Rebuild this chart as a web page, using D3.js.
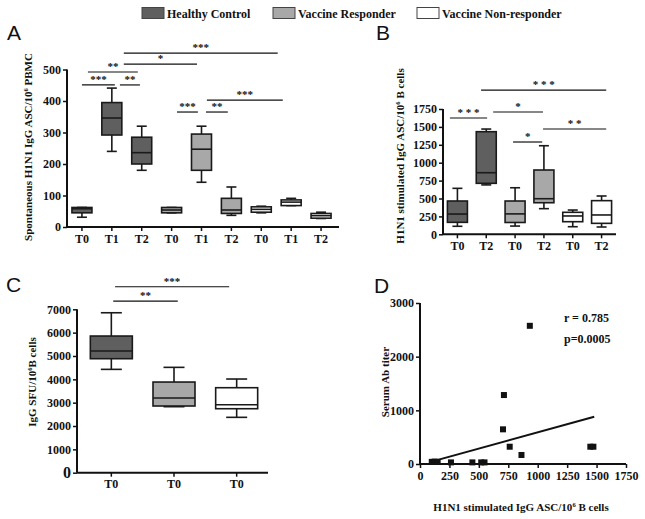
<!DOCTYPE html>
<html><head><meta charset="utf-8">
<script src="https://cdn.jsdelivr.net/npm/d3@7"></script>
<style>
body{margin:0;background:#fff}
svg{display:block}
text{font-family:"Liberation Serif","Times New Roman",serif;font-weight:bold;fill:#111}
.letter{font-family:"Liberation Sans",Arial,sans-serif;font-weight:normal;font-size:21px}
</style></head>
<body><svg id="c" width="645" height="519"></svg>
<script>
// ---------- DATA ----------
const groups = ["Healthy Control", "Vaccine Responder", "Vaccine Non-responder"];
const groupFill = ["#5f5f5f", "#a8a8a8", "#ffffff"];

// Panel A: spontaneous H1N1 IgG ASC / 10^6 PBMC
const aCategories = ["T0","T1","T2","T0","T1","T2","T0","T1","T2"];
const aGroup = [0,0,0,1,1,1,2,2,2];
const aMin    = [31, 240, 180, 45, 142, 37, 45, 68, 27];
const aQ1     = [45, 292, 200, 45, 180, 43, 47, 68, 28];
const aMedian = [58, 346, 236, 54, 247, 54, 56, 79, 36];
const aQ3     = [62, 395, 285, 62, 295, 91, 64, 86, 43];
const aMax    = [62, 441, 320, 62, 320, 127, 66, 91, 47];
const aTicks  = [0, 100, 200, 300, 400, 500];
// significance: [from index, to index, y value, label]
const aSig = [[0,1.1,451,"***"],[1.27,1.94,451,"**"],[0.2,1.87,492,"**"],[1.4,3.85,517,"*"],
              [1.4,6.55,552,"***"],[3.18,3.88,365,"***"],[4.15,4.88,365,"**"],[4.18,6.72,403,"***"]];

// Panel B: H1N1 stimulated IgG ASC / 10^6 B cells
const bCategories = ["T0","T2","T0","T2","T0","T2"];
const bGroup = [0,0,1,1,2,2];
const bMin    = [112, 690, 115, 358, 106, 102];
const bQ1     = [167, 712, 165, 441, 176, 153];
const bMedian = [283, 860, 285, 497, 256, 270];
const bQ3     = [465, 1433, 465, 898, 307, 470];
const bMax    = [642, 1470, 650, 1237, 339, 535];
const bTicks  = [0, 250, 500, 750, 1000, 1250, 1500, 1750];
const bSig = [[-0.26,1.03,1624,"* * *"],[1.24,2.97,1708,"*"],[0.82,5.16,2015,"* * *"],
              [2.97,5.16,1471,"* *"],[1.93,2.94,1289,"*"]];

// Panel C: IgG SFU / 10^6 B cells
const cCategories = ["T0","T0","T0"];
const cGroup = [0,1,2];
const cMin    = [4427, 2828, 2372];
const cQ1     = [4883, 2857, 2741];
const cMedian = [5212, 3199, 2912];
const cQ3     = [5855, 3884, 3641];
const cMax    = [6852, 4513, 4013];
const cTicks  = [0, 1000, 2000, 3000, 4000, 5000, 6000, 7000];
const cSig = [[0.06,1.88,7966,"***"],[0.03,1.06,7353,"**"]];

// Panel D: correlation
const dX = [100, 125, 150, 263, 445, 520, 548, 705, 713, 762, 862, 933, 1447, 1473];
const dY = [40, 45, 40, 30, 30, 30, 30, 646, 1285, 322, 168, 2575, 322, 322];
const regX = [90, 1480];
const regY = [40, 880];
const dXTicks = [0, 250, 500, 750, 1000, 1250, 1500, 1750];
const dYTicks = [0, 1000, 2000, 3000];

// ---------- DRAW ----------
const svg = d3.select("#c");
const SERIF = '"Liberation Serif","Times New Roman",serif';
const fmt = d3.format("d");

// legend
const legX = [142, 273, 417];
groups.forEach((g,i)=>{
  svg.append("rect").attr("x",legX[i]).attr("y",7.5).attr("width",22).attr("height",11)
    .attr("fill",groupFill[i]).attr("stroke","#444").attr("stroke-width",1);
  svg.append("text").attr("x",legX[i]+25).attr("y",18).attr("font-size",12).text(g);
});

function addParts(t, parts, size){
  parts.forEach(p=>{
    if (p.sup) t.append("tspan").attr("font-size",size*0.6).attr("dy",-size*0.4).text(p.t);
    else t.append("tspan").attr("dy", p.after ? size*0.4 : 0).text(p.t);
  });
}
function yLabel(x, y, parts, size){
  const t = svg.append("text").attr("transform",`translate(${x},${y}) rotate(-90)`)
    .attr("text-anchor","middle").attr("font-size",size);
  addParts(t, parts, size);
}
function hLabel(x, y, parts, size){
  const t = svg.append("text").attr("x",x).attr("y",y).attr("text-anchor","middle").attr("font-size",size);
  addParts(t, parts, size);
}
function styleAxis(a){
  a.select(".domain").remove();
  a.selectAll("line").attr("stroke","#111").attr("stroke-width",1.5);
  a.selectAll("text").attr("fill","#111").style("font-family",SERIF).style("font-weight","bold").style("font-size","12px");
}

function boxPanel(cfg){
  const n = cfg.cats.length;
  const x = d3.scaleBand().domain(d3.range(n)).range(cfg.xr).paddingInner(0).paddingOuter(0);
  const y = d3.scaleLinear().domain([0, cfg.ymax]).range(cfg.yr);
  const step = x.step();
  const cx = i => x(0) + step/2 + i*step;
  const bw = cfg.bw;
  const g = svg.append("g");
  const ya = g.append("g").attr("transform",`translate(${cfg.axisX},0)`)
    .call(d3.axisLeft(y).tickValues(cfg.ticks).tickSize(4).tickPadding(2).tickFormat(fmt));
  styleAxis(ya);
  if (cfg.bigZero) ya.selectAll("text").filter(d=>d===0).style("font-size","16px");
  g.append("line").attr("x1",cfg.axisX).attr("x2",cfg.axisX).attr("y1",y(0)).attr("y2",y(cfg.ticks[cfg.ticks.length-1]))
    .attr("stroke","#111").attr("stroke-width",2);
  const xa = g.append("g").attr("transform",`translate(0,${y(0)})`)
    .call(d3.axisBottom(x).tickSize(4).tickPadding(3).tickFormat(i=>cfg.cats[i]));
  styleAxis(xa);
  g.append("line").attr("x1",cfg.axisX).attr("x2",cfg.xEnd).attr("y1",y(0)).attr("y2",y(0))
    .attr("stroke","#111").attr("stroke-width",2);
  d3.range(n).forEach(i=>{
    const c = cx(i);
    const st = "#1a1a1a";
    const line = (x1,x2,y1,y2)=>g.append("line").attr("x1",x1).attr("x2",x2).attr("y1",y1).attr("y2",y2).attr("stroke",st).attr("stroke-width",1.6);
    line(c,c,y(cfg.max[i]),y(cfg.q3[i]));
    line(c,c,y(cfg.q1[i]),y(cfg.min[i]));
    line(c-bw/4,c+bw/4,y(cfg.max[i]),y(cfg.max[i]));
    line(c-bw/4,c+bw/4,y(cfg.min[i]),y(cfg.min[i]));
    g.append("rect").attr("x",c-bw/2).attr("width",bw).attr("y",y(cfg.q3[i]))
      .attr("height",Math.max(1,y(cfg.q1[i])-y(cfg.q3[i])))
      .attr("fill",groupFill[cfg.grp[i]]).attr("stroke",st).attr("stroke-width",1.6);
    line(c-bw/2,c+bw/2,y(cfg.med[i]),y(cfg.med[i]));
  });
  cfg.sig.forEach(s=>{
    const x1 = cx(s[0]), x2 = cx(s[1]), yy = y(s[2]);
    g.append("line").attr("x1",x1).attr("x2",x2).attr("y1",yy).attr("y2",yy).attr("stroke","#111").attr("stroke-width",1.2);
    g.append("text").attr("x",(x1+x2)/2).attr("y",yy-2).attr("text-anchor","middle").attr("font-size",11).text(s[3]);
  });
}

boxPanel({cats:aCategories, grp:aGroup, min:aMin, q1:aQ1, med:aMedian, q3:aQ3, max:aMax,
  ticks:aTicks, ymax:500, xr:[67,336], yr:[227,69.5], axisX:67, xEnd:339, bw:20, sig:aSig});
boxPanel({cats:bCategories, grp:bGroup, min:bMin, q1:bQ1, med:bMedian, q3:bQ3, max:bMax,
  ticks:bTicks, ymax:1750, xr:[443,616], yr:[234.3,109], axisX:443, xEnd:616, bw:20, sig:bSig});
boxPanel({cats:cCategories, grp:cGroup, min:cMin, q1:cQ1, med:cMedian, q3:cQ3, max:cMax,
  ticks:cTicks, ymax:7000, xr:[80,268], yr:[472.7,309.3], axisX:77, xEnd:268, bw:42, sig:cSig, bigZero:true});

// Panel D
{
  const x = d3.scaleLinear().domain([0,1750]).range([420,626]);
  const y = d3.scaleLinear().domain([0,3000]).range([464,303]);
  const g = svg.append("g");
  const ya = g.append("g").attr("transform","translate(420,0)").call(d3.axisLeft(y).tickValues(dYTicks).tickSize(4).tickPadding(2).tickFormat(fmt));
  styleAxis(ya);
  g.append("line").attr("x1",420).attr("x2",420).attr("y1",y(0)).attr("y2",y(3000)).attr("stroke","#111").attr("stroke-width",2);
  const xa = g.append("g").attr("transform",`translate(0,${y(0)})`).call(d3.axisBottom(x).tickValues(dXTicks).tickSize(4).tickPadding(3).tickFormat(fmt));
  styleAxis(xa);
  g.append("line").attr("x1",420).attr("x2",x(1750)).attr("y1",y(0)).attr("y2",y(0)).attr("stroke","#111").attr("stroke-width",2);
  g.append("line").attr("x1",x(regX[0])).attr("y1",y(regY[0])).attr("x2",x(regX[1])).attr("y2",y(regY[1]))
    .attr("stroke","#111").attr("stroke-width",2);
  dX.forEach((v,i)=>{
    g.append("rect").attr("x",x(v)-3).attr("y",y(dY[i])-3).attr("width",6).attr("height",6).attr("fill","#111");
  });
  g.append("text").attr("x",564).attr("y",322).attr("font-size",12).text("r = 0.785");
  g.append("text").attr("x",564).attr("y",343).attr("font-size",12).text("p=0.0005");
}

yLabel(32, 147, [{t:"Spontaneous H1N1 IgG ASC/10"},{t:"6",sup:true},{t:" PBMC",after:true}], 11);
yLabel(404, 156, [{t:"H1N1 stimulated IgG ASC/10"},{t:"6",sup:true},{t:" B cells",after:true}], 11);
yLabel(36, 382, [{t:"IgG SFU/10"},{t:"6",sup:true},{t:"B cells",after:true}], 11);
yLabel(389, 382, [{t:"Serum Ab  titer"}], 11);
hLabel(521, 511, [{t:"H1N1 stimulated IgG ASC/10"},{t:"6",sup:true},{t:" B cells",after:true}], 11);

svg.append("text").attr("class","letter").attr("x",7).attr("y",40).text("A");
svg.append("text").attr("class","letter").attr("x",376).attr("y",40).text("B");
svg.append("text").attr("class","letter").attr("x",6).attr("y",292).text("C");
svg.append("text").attr("class","letter").attr("x",374).attr("y",293).text("D");
</script></body></html>
